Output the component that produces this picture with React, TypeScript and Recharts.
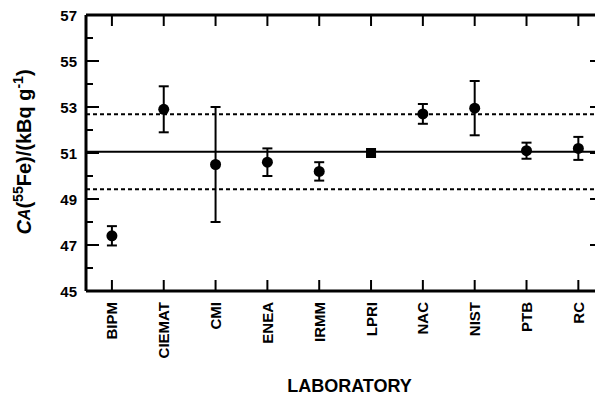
import { ComposedChart, Scatter, ErrorBar, XAxis, YAxis, ReferenceLine } from "recharts";

const labs = ["BIPM", "CIEMAT", "CMI", "ENEA", "IRMM", "LPRI", "NAC", "NIST", "PTB", "RC"];
const activity = [47.4, 52.9, 50.5, 50.6, 50.2, 51.0, 52.7, 52.95, 51.1, 51.2];
const uncertainty = [0.42, 1.0, 2.5, 0.6, 0.4, 0.1, 0.43, 1.18, 0.35, 0.5];
const yTicks = [45, 46, 47, 48, 49, 50, 51, 52, 53, 54, 55, 56, 57];
const meanValue = 51.05;
const bandHigh = 52.68;
const bandLow = 49.42;

const FONT = "'Liberation Sans', Arial, Helvetica, sans-serif";
const labIndex = labs.map((_, i) => i);

const points = labs.map((name, i) => ({
  x: i,
  y: activity[i],
  err: uncertainty[i],
  name,
}));

// ticks point inward, like the boxed frame in the original figure
function BottomTick(props: any) {
  const { x, y, payload } = props;
  return (
    <g>
      <line x1={x} y1={y} x2={x} y2={y - 11} stroke="#000" strokeWidth={2} />
      <text
        transform={`translate(${x}, ${y + 11}) rotate(-90)`}
        textAnchor="end"
        dominantBaseline="central"
        fontFamily={FONT}
        fontWeight="bold"
        fontSize={15}
        fill="#000"
      >
        {labs[payload.value]}
      </text>
    </g>
  );
}

function TopTick(props: any) {
  const { x, y } = props;
  return <line x1={x} y1={y} x2={x} y2={y + 11} stroke="#000" strokeWidth={2} />;
}

function LeftTick(props: any) {
  const { x, y, payload } = props;
  const major = payload.value % 2 === 1;
  return (
    <g>
      <line x1={x} y1={y} x2={x + (major ? 13 : 7)} y2={y} stroke="#000" strokeWidth={2} />
      {major ? (
        <text
          x={x - 9}
          y={y}
          textAnchor="end"
          dominantBaseline="central"
          fontFamily={FONT}
          fontWeight="bold"
          fontSize={15}
          fill="#000"
        >
          {payload.value}
        </text>
      ) : null}
    </g>
  );
}

function RightTick(props: any) {
  const { x, y, payload } = props;
  if (payload.value % 2 === 0) return <g />;
  return <line x1={x} y1={y} x2={x - 7} y2={y} stroke="#000" strokeWidth={2} />;
}

function Marker(props: any) {
  const { cx, cy, payload } = props;
  if (payload.name === "LPRI") {
    return <rect x={cx - 5} y={cy - 5} width={10} height={10} fill="#000" />;
  }
  return <circle cx={cx} cy={cy} r={5.5} fill="#000" />;
}

function YTitle() {
  return (
    <text
      transform="translate(24, 152) rotate(-90)"
      textAnchor="middle"
      dominantBaseline="central"
      fontFamily={FONT}
      fontWeight="bold"
      fontSize={20}
      fill="#000"
    >
      <tspan fontStyle="italic">C</tspan>
      <tspan fontStyle="italic" fontSize={16}>A</tspan>
      <tspan>(</tspan>
      <tspan fontSize={14} dy={-6}>55</tspan>
      <tspan dy={6}>Fe)/(kBq g</tspan>
      <tspan fontSize={14} dy={-6}>-1</tspan>
      <tspan dy={6}>)</tspan>
    </text>
  );
}

export default function App() {
  return (
    <div style={{ position: "absolute", left: 0, top: 0, width: 595, height: 396, overflow: "hidden", background: "#fff" }}>
      <ComposedChart width={598} height={396} data={points} margin={{ top: 14, right: 0, bottom: 0, left: 0 }}>
        <XAxis
          xAxisId="bottom"
          type="number"
          dataKey="x"
          domain={[-0.5, 9.36]}
          ticks={labIndex}
          interval={0}
          height={105}
          tickSize={0}
          tickMargin={0}
          tickLine={false}
          tick={<BottomTick />}
          axisLine={{ stroke: "#000", strokeWidth: 3 }}
          label={{
            value: "LABORATORY",
            position: "insideBottom",
            offset: 4,
            dx: 8,
            style: { fontFamily: FONT, fontWeight: "bold", fontSize: 18, fill: "#000" },
          }}
        />
        <XAxis
          xAxisId="top"
          orientation="top"
          type="number"
          dataKey="x"
          domain={[-0.5, 9.36]}
          ticks={labIndex}
          interval={0}
          height={1}
          tickSize={0}
          tickMargin={0}
          tickLine={false}
          tick={<TopTick />}
          axisLine={{ stroke: "#000", strokeWidth: 3 }}
        />
        <YAxis
          yAxisId="left"
          type="number"
          domain={[45, 57]}
          ticks={yTicks}
          interval={0}
          width={86}
          tickSize={0}
          tickMargin={0}
          tickLine={false}
          tick={<LeftTick />}
          axisLine={{ stroke: "#000", strokeWidth: 3 }}
          label={<YTitle />}
        />
        <YAxis
          yAxisId="right"
          orientation="right"
          type="number"
          domain={[45, 57]}
          ticks={yTicks}
          interval={0}
          width={1}
          tickSize={0}
          tickMargin={0}
          tickLine={false}
          tick={<RightTick />}
          axisLine={{ stroke: "#000", strokeWidth: 3 }}
        />
        <ReferenceLine xAxisId="bottom" yAxisId="left" y={meanValue} stroke="#000" strokeWidth={2} />
        <ReferenceLine xAxisId="bottom" yAxisId="left" y={bandHigh} stroke="#000" strokeWidth={2} strokeDasharray="4 3" />
        <ReferenceLine xAxisId="bottom" yAxisId="left" y={bandLow} stroke="#000" strokeWidth={2} strokeDasharray="4 3" />
        <Scatter
          xAxisId="bottom"
          yAxisId="left"
          dataKey="y"
          fill="#000"
          shape={<Marker />}
          isAnimationActive={false}
        >
          <ErrorBar dataKey="err" direction="y" width={5} strokeWidth={2} stroke="#000" />
        </Scatter>
        <Scatter
          xAxisId="top"
          yAxisId="right"
          dataKey="y"
          fill="none"
          shape={() => <g />}
          isAnimationActive={false}
        />
      </ComposedChart>
    </div>
  );
}
